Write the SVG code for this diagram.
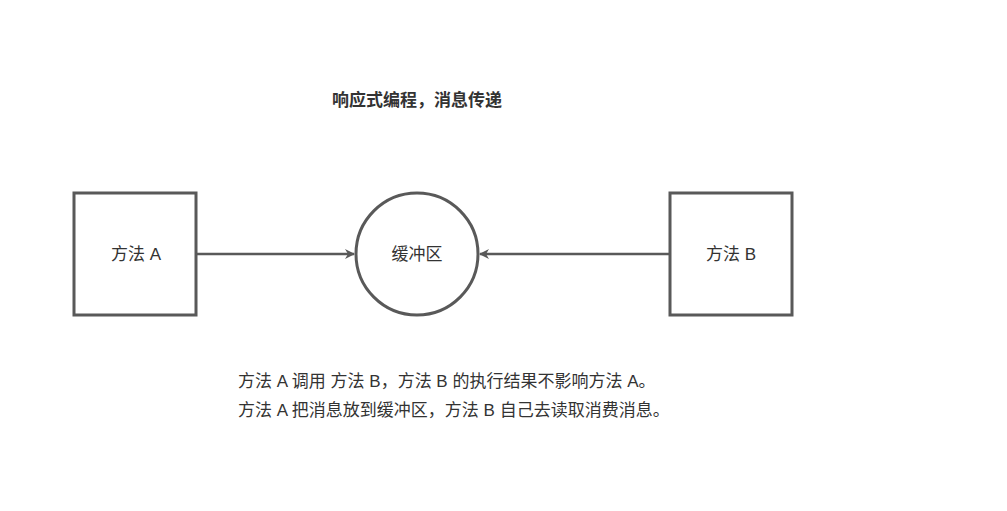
<svg xmlns="http://www.w3.org/2000/svg" width="1007" height="511" viewBox="0 0 1007 511">
<style>
.s{fill:#fff;stroke:#595959;stroke-width:3}
.t{font-family:"Liberation Sans","Noto Sans CJK SC",sans-serif;font-size:17px;fill:#333}
.c{stroke:#595959;stroke-width:2.5;fill:none}
</style>
<defs><marker id="a" markerWidth="10" markerHeight="10" refX="9" refY="5" orient="auto" markerUnits="userSpaceOnUse"><path d="M0,0 L10,5 L0,10 L3,5 Z" fill="#595959"/></marker></defs>
<rect width="1007" height="511" fill="#fff"/>
<text class="t" x="332" y="106" font-weight="bold">响应式编程，消息传递</text>
<g id="nodeA"><rect class="s" x="74" y="193" width="122" height="122"/><text class="t" x="136" y="260" text-anchor="middle">方法 A</text></g>
<g id="buffer"><circle class="s" cx="417" cy="254" r="61"/><text class="t" x="417" y="260" text-anchor="middle">缓冲区</text></g>
<g id="nodeB"><rect class="s" x="670" y="193" width="122" height="122"/><text class="t" x="731" y="260" text-anchor="middle">方法 B</text></g>
<g id="connectors"><path class="c" d="M196,254 L354,254" marker-end="url(#a)"/><path class="c" d="M670,254 L480,254" marker-end="url(#a)"/></g>
<text class="t" x="238" y="387">方法 A 调用 方法 B，方法 B 的执行结果不影响方法 A。</text>
<text class="t" x="238" y="416">方法 A 把消息放到缓冲区，方法 B 自己去读取消费消息。</text>
</svg>
